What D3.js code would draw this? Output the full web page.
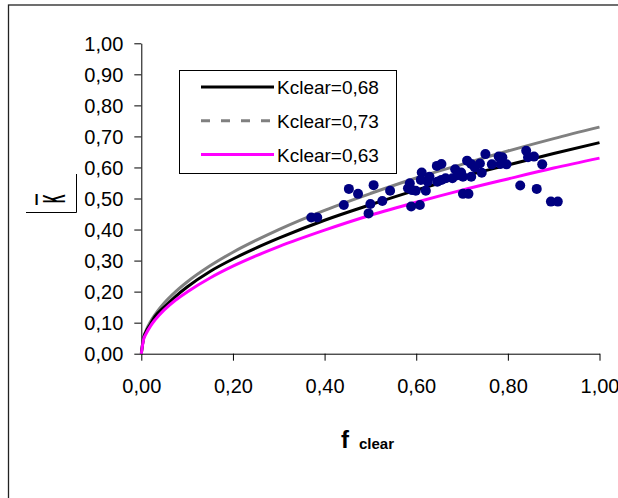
<!DOCTYPE html>
<html>
<head>
<meta charset="utf-8">
<script src="https://cdn.jsdelivr.net/npm/d3@7"></script>
<style>
  body { margin: 0; background: #fff; }
  svg { display: block; font-family: "Liberation Sans", Arial, sans-serif; }
</style>
</head>
<body>
<div id="chart"></div>
<script>
// curves
const fGrid = [0, 0.005, 0.01, 0.02, 0.03, 0.05, 0.075, 0.1, 0.15, 0.2, 0.25, 0.3, 0.4, 0.5, 0.6, 0.7, 0.8, 0.9, 1.0];
const k068 = [0, 0.05, 0.07, 0.095, 0.12, 0.15, 0.185, 0.215, 0.265, 0.305, 0.34, 0.372, 0.43, 0.48, 0.527, 0.57, 0.608, 0.645, 0.68];
const k073 = [0, 0.052, 0.073, 0.103, 0.126, 0.163, 0.2, 0.231, 0.283, 0.327, 0.365, 0.4, 0.462, 0.516, 0.566, 0.61, 0.653, 0.693, 0.73];
const k063 = [0, 0.046, 0.063, 0.089, 0.109, 0.141, 0.173, 0.199, 0.244, 0.282, 0.315, 0.345, 0.398, 0.446, 0.488, 0.527, 0.563, 0.598, 0.63];

// measured points
const obsF = [0.371, 0.384, 0.453, 0.442, 0.473, 0.507, 0.500, 0.496, 0.526, 0.543,
  0.582, 0.586, 0.591, 0.589, 0.608, 0.599, 0.621, 0.612, 0.610, 0.625,
  0.629, 0.645, 0.655, 0.646, 0.664, 0.679, 0.685, 0.698, 0.702, 0.711,
  0.720, 0.702, 0.714, 0.720, 0.739, 0.743, 0.751, 0.765, 0.780, 0.788,
  0.784, 0.797, 0.827, 0.840, 0.844, 0.857, 0.875, 0.863, 0.894, 0.909,
  0.655, 0.690, 0.728];
const obsK = [0.439, 0.439, 0.531, 0.479, 0.515, 0.543, 0.482, 0.452, 0.492, 0.525,
  0.533, 0.549, 0.527, 0.474, 0.479, 0.525, 0.525, 0.584, 0.560, 0.554,
  0.570, 0.605, 0.611, 0.554, 0.565, 0.565, 0.594, 0.584, 0.570, 0.622,
  0.611, 0.515, 0.515, 0.570, 0.613, 0.583, 0.643, 0.610, 0.635, 0.633,
  0.611, 0.610, 0.542, 0.654, 0.633, 0.635, 0.610, 0.531, 0.490, 0.490,
  0.560, 0.575, 0.600];

const seriesNames = ["Kclear=0,68", "Kclear=0,73", "Kclear=0,63"];
const seriesColors = ["#000000", "#808080", "#ff00ff"];
const seriesDash = [null, "9,11", null];
const seriesValues = [k068, k073, k063];
const tickVals = [0, 0.2, 0.4, 0.6, 0.8, 1.0];
const yTickVals = [0, 0.1, 0.2, 0.3, 0.4, 0.5, 0.6, 0.7, 0.8, 0.9, 1.0];

const W = 618, H = 498;
const svg = d3.select("#chart").append("svg")
  .attr("width", W).attr("height", H);

// outer frame, runs off the picture on the right and bottom
svg.append("rect")
  .attr("x", 8.5).attr("y", 5).attr("width", 700).attr("height", 600)
  .attr("fill", "none").attr("stroke", "#222").attr("stroke-width", 1.3);

const x = d3.scaleLinear().domain([0, 1]).range([141.3, 599.5]);
const y = d3.scaleLinear().domain([0, 1]).range([353.7, 43.3]);
const fmt = d => d3.format(".2f")(d).replace(".", ",");

const xAxis = svg.append("g")
  .attr("transform", "translate(0," + y(0) + ")")
  .call(d3.axisBottom(x).tickValues(tickVals).tickSize(7).tickSizeOuter(0).tickFormat(fmt));
xAxis.selectAll("text").attr("font-size", 20).attr("font-family", "Liberation Sans, Arial")
  .attr("fill", "#000").attr("dy", null).attr("y", 39);

const yAxis = svg.append("g")
  .attr("transform", "translate(" + x(0) + ",0)")
  .call(d3.axisLeft(y).tickValues(yTickVals).tickSize(7).tickSizeOuter(0).tickFormat(fmt));
yAxis.selectAll("text").attr("font-size", 20).attr("font-family", "Liberation Sans, Arial")
  .attr("fill", "#000").attr("x", -18).attr("dy", "0.35em");
svg.selectAll(".domain, .tick line").attr("stroke", "#000").attr("stroke-width", 1);

// curves
const line = d3.line()
  .x((d, i) => x(fGrid[i]))
  .y(d => y(d))
  .curve(d3.curveMonotoneX);

[1, 0, 2].forEach(s => {
  svg.append("path")
    .datum(seriesValues[s])
    .attr("d", line)
    .attr("fill", "none")
    .attr("stroke", seriesColors[s])
    .attr("stroke-width", 3);
});

// points
svg.append("g").selectAll("circle")
  .data(obsF)
  .join("circle")
  .attr("cx", d => x(d))
  .attr("cy", (d, i) => y(obsK[i]))
  .attr("r", 5)
  .attr("fill", "#000080");

// legend
const lg = svg.append("g");
lg.append("rect")
  .attr("x", 179.5).attr("y", 70.5).attr("width", 217).attr("height", 103)
  .attr("fill", "#fff").attr("stroke", "#000").attr("stroke-width", 1);
seriesNames.forEach((name, i) => {
  const cy = 87 + i * 33.8;
  lg.append("line")
    .attr("x1", 201).attr("x2", 274).attr("y1", cy).attr("y2", cy)
    .attr("stroke", seriesColors[i]).attr("stroke-width", 3)
    .attr("stroke-dasharray", seriesDash[i]);
  lg.append("text")
    .attr("x", 277).attr("y", cy + 7)
    .attr("font-size", 19)
    .text(name);
});

// y title (garbled "K" box, as in the source)
svg.append("path")
  .attr("d", "M26,212.5H76.5V174")
  .attr("fill", "none").attr("stroke", "#000").attr("stroke-width", 1);
svg.append("text")
  .attr("x", 34.5).attr("y", 204.5)
  .attr("font-size", 15).attr("font-weight", "bold")
  .text("l");
svg.append("text")
  .attr("transform", "translate(65,203) rotate(-90) scale(0.6,1.6)")
  .attr("font-size", 20).attr("font-weight", "bold")
  .text("K");

// x title
const xt = svg.append("text").attr("y", 448).attr("font-weight", "bold");
xt.append("tspan").attr("x", 341).attr("font-size", 24).text("f");
xt.append("tspan").attr("dx", 10).attr("dy", 1).attr("font-size", 15).text("clear");
</script>
</body>
</html>
